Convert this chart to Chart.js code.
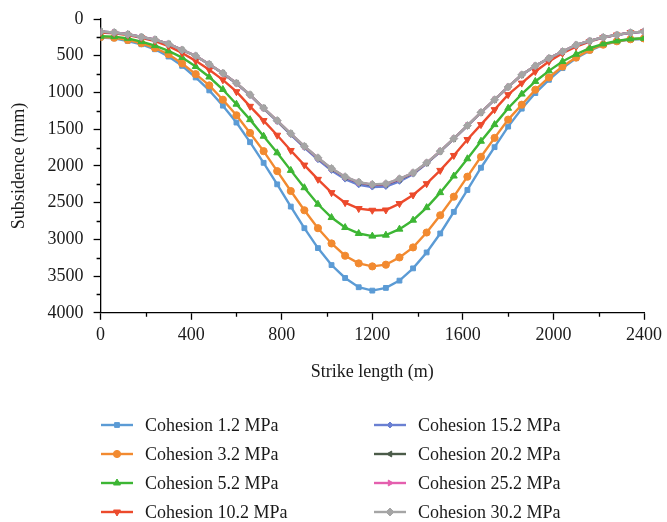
<!DOCTYPE html>
<html lang="en">
<head>
    <meta charset="UTF-8">
    <title>Subsidence vs strike length</title>
    <style>
        html, body {
            margin: 0;
            padding: 0;
            background: #fff;
        }
        #chart-container {
            width: 667px;
            height: 522px;
        }
    </style>
</head>
<body>
<div id="chart-container">
    <canvas id="subsidenceChart"></canvas>
</div>
<script src="https://cdn.jsdelivr.net/npm/chart.js"></script>
<script>
    // strike length positions (m)
    const strikeLength = [0, 60, 120, 180, 240, 300, 360, 420, 480, 540,
        600, 660, 720, 780, 840, 900, 960, 1020, 1080, 1140,
        1200, 1260, 1320, 1380, 1440, 1500, 1560, 1620, 1680, 1740,
        1800, 1860, 1920, 1980, 2040, 2100, 2160, 2220, 2280, 2340, 2400];

    // subsidence (mm) per cohesion value
    const cohesion1_2 = [254, 263, 299, 344, 412, 511, 638, 796, 972, 1180,
        1410, 1677, 1958, 2251, 2554, 2848, 3119, 3350, 3526, 3652,
        3698, 3661, 3562, 3395, 3178, 2920, 2626, 2328, 2025, 1745,
        1465, 1221, 1008, 828, 669, 534, 430, 353, 308, 281, 272];
    const cohesion3_2 = [245, 255, 285, 330, 395, 480, 606, 751, 904, 1099,
        1311, 1551, 1799, 2071, 2342, 2604, 2848, 3056, 3223, 3327,
        3368, 3345, 3246, 3110, 2907, 2672, 2419, 2147, 1876, 1619,
        1370, 1167, 963, 796, 647, 525, 421, 350, 303, 276, 265];
    const cohesion5_2 = [235, 240, 263, 308, 362, 434, 525, 647, 790, 960,
        1160, 1370, 1596, 1822, 2061, 2297, 2522, 2703, 2839, 2920,
        2956, 2943, 2861, 2739, 2568, 2364, 2138, 1903, 1664, 1438,
        1215, 1022, 850, 706, 579, 480, 398, 339, 299, 272, 263];
    const cohesion10_2 = [185, 195, 220, 255, 300, 370, 462, 570, 692, 828,
        990, 1189, 1383, 1582, 1790, 1989, 2183, 2364, 2500, 2581,
        2604, 2600, 2513, 2396, 2242, 2061, 1858, 1641, 1438, 1234,
        1030, 873, 715, 579, 466, 376, 308, 254, 217, 186, 172];
    const cohesion15_2 = [172, 183, 208, 245, 282, 340, 422, 504, 618, 741,
        878, 1038, 1221, 1394, 1574, 1750, 1915, 2062, 2180, 2258,
        2288, 2280, 2210, 2112, 1970, 1806, 1632, 1454, 1273, 1100,
        926, 761, 639, 535, 444, 354, 300, 250, 218, 187, 173];
    const cohesion20_2 = [172, 183, 208, 245, 281, 339, 421, 503, 616, 738,
        874, 1033, 1214, 1386, 1563, 1736, 1895, 2040, 2154, 2228,
        2259, 2250, 2182, 2098, 1961, 1801, 1629, 1452, 1272, 1099,
        925, 760, 638, 534, 443, 353, 299, 249, 217, 186, 172];
    const cohesion25_2 = [172, 183, 208, 245, 281, 339, 421, 502, 615, 737,
        873, 1032, 1213, 1384, 1561, 1734, 1892, 2037, 2150, 2224,
        2255, 2246, 2178, 2095, 1959, 1800, 1628, 1451, 1271, 1099,
        925, 760, 638, 534, 443, 353, 299, 249, 217, 186, 172];
    const cohesion30_2 = [172, 183, 208, 245, 281, 339, 421, 502, 615, 737,
        873, 1031, 1212, 1383, 1560, 1732, 1890, 2034, 2147, 2220,
        2251, 2242, 2175, 2093, 1958, 1799, 1628, 1451, 1271, 1099,
        925, 760, 638, 534, 443, 353, 299, 249, 217, 186, 172];

    const seriesLabels = ['Cohesion 1.2 MPa', 'Cohesion 3.2 MPa', 'Cohesion 5.2 MPa', 'Cohesion 10.2 MPa',
        'Cohesion 15.2 MPa', 'Cohesion 20.2 MPa', 'Cohesion 25.2 MPa', 'Cohesion 30.2 MPa'];
    const seriesValues = [cohesion1_2, cohesion3_2, cohesion5_2, cohesion10_2,
        cohesion15_2, cohesion20_2, cohesion25_2, cohesion30_2];

    const xTicksMinor = [200, 600, 1000, 1400, 1800, 2200];
    const yTicksMinor = [250, 750, 1250, 1750, 2250, 2750, 3250, 3750];

    const seriesColors = ['#5b9bd5', '#f28a30', '#3db634', '#ec4a2c', '#6a80d2', '#4b5b49', '#e45fae', '#a5a5a5'];
    const seriesStyles = ['rect', 'circle', 'triangle', 'triangle', 'rectRot', 'triangle', 'triangle', 'rectRot'];
    const seriesRotation = [0, 0, 0, 180, 0, -90, 90, 0];
    const seriesRadius = [3.4, 3.6, 4, 4, 3, 3.4, 3.4, 4];

    const FONT = '"Liberation Serif", "DejaVu Serif", serif';

    const datasets = seriesValues.map((vals, i) => ({
        label: seriesLabels[i],
        data: strikeLength.map((x, j) => ({x: x, y: vals[j]})),
        borderColor: seriesColors[i],
        backgroundColor: seriesColors[i],
        pointBackgroundColor: seriesColors[i],
        pointBorderColor: seriesColors[i],
        pointStyle: seriesStyles[i],
        rotation: seriesRotation[i],
        pointRadius: seriesRadius[i],
        pointBorderWidth: 1,
        borderWidth: 2.4,
        tension: 0,
        fill: false,
        order: seriesValues.length - i
    }));

    // minor ticks and the two-column legend
    const extrasPlugin = {
        id: 'extras',
        afterDraw(chart) {
            const ctx = chart.ctx;
            const area = chart.chartArea;
            const xs = chart.scales.x;
            const ys = chart.scales.y;
            ctx.save();
            ctx.strokeStyle = '#000';
            ctx.lineWidth = 1.3;
            ctx.beginPath();
            xTicksMinor.forEach(v => {
                const px = Math.round(xs.getPixelForValue(v)) + 0.5;
                ctx.moveTo(px, area.bottom);
                ctx.lineTo(px, area.bottom + 4);
            });
            yTicksMinor.forEach(v => {
                const py = Math.round(ys.getPixelForValue(v)) + 0.5;
                ctx.moveTo(area.left, py);
                ctx.lineTo(area.left - 4, py);
            });
            ctx.stroke();

            // legend
            const colX = [101, 374];
            const rowY = [425, 454, 483, 512];
            ctx.font = '18px ' + FONT;
            ctx.textBaseline = 'middle';
            ctx.textAlign = 'left';
            seriesLabels.forEach((label, i) => {
                const x0 = colX[Math.floor(i / 4)];
                const y0 = rowY[i % 4];
                ctx.strokeStyle = seriesColors[i];
                ctx.lineWidth = 2.4;
                ctx.beginPath();
                ctx.moveTo(x0, y0);
                ctx.lineTo(x0 + 32, y0);
                ctx.stroke();
                ctx.fillStyle = seriesColors[i];
                ctx.lineWidth = 1;
                Chart.helpers.drawPoint(ctx, {
                    pointStyle: seriesStyles[i],
                    rotation: seriesRotation[i],
                    radius: seriesRadius[i],
                    borderWidth: 1
                }, x0 + 16, y0);
                ctx.fillStyle = '#1a1a1a';
                ctx.fillText(label, x0 + 44, y0 + 1);
            });
            ctx.restore();
        }
    };

    const ctx = document.getElementById('subsidenceChart').getContext('2d');
    const subsidenceChart = new Chart(ctx, {
        type: 'line',
        data: {datasets: datasets},
        plugins: [extrasPlugin],
        options: {
            responsive: true,
            maintainAspectRatio: false,
            animation: false,
            layout: {
                padding: {left: 8, right: 0, top: 0, bottom: 139}
            },
            plugins: {
                legend: {display: false},
                tooltip: {enabled: false}
            },
            scales: {
                x: {
                    type: 'linear',
                    min: 0,
                    max: 2400,
                    border: {display: true, color: '#000', width: 1.3},
                    grid: {drawOnChartArea: false, drawTicks: true, tickLength: 7, color: '#000', tickWidth: 1.3},
                    ticks: {
                        stepSize: 400,
                        color: '#1a1a1a',
                        padding: 5,
                        maxRotation: 0,
                        font: {family: FONT, size: 18},
                        callback: v => String(v)
                    },
                    title: {
                        display: true,
                        text: 'Strike length (m)',
                        color: '#1a1a1a',
                        padding: {top: 10, bottom: 0},
                        font: {family: FONT, size: 18}
                    }
                },
                y: {
                    type: 'linear',
                    reverse: true,
                    min: 0,
                    max: 4000,
                    border: {display: true, color: '#000', width: 1.3},
                    grid: {drawOnChartArea: false, drawTicks: true, tickLength: 7, color: '#000', tickWidth: 1.3},
                    ticks: {
                        stepSize: 500,
                        color: '#1a1a1a',
                        padding: 10,
                        font: {family: FONT, size: 18, lineHeight: 1},
                        callback: v => String(v)
                    },
                    title: {
                        display: true,
                        text: 'Subsidence (mm)',
                        color: '#1a1a1a',
                        padding: {top: 0, bottom: 8},
                        font: {family: FONT, size: 18}
                    }
                }
            }
        }
    });
</script>
</body>
</html>
